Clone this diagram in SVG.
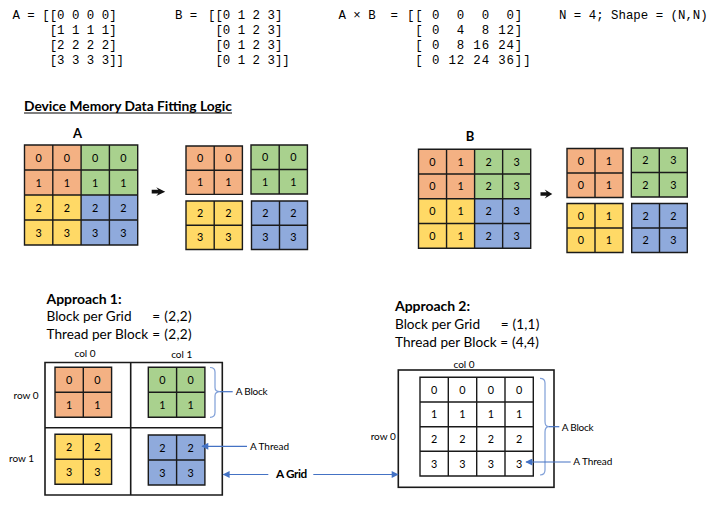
<svg xmlns="http://www.w3.org/2000/svg" width="724" height="505" viewBox="0 0 724 505">
<defs>
<style>
.mono{font-family:"Liberation Mono","Courier New",monospace;font-size:12.4px;fill:#000;white-space:pre}
.mx{letter-spacing:0.86px}
.t{font-family:Lato,"Liberation Sans",sans-serif;fill:#000}
.s{font-size:10px}
.m{font-size:13.6px}
.n{font-family:Lato,"Liberation Sans",sans-serif;font-size:10.8px;text-anchor:middle;fill:#000}
.b{font-weight:bold}
.grid{fill:none;stroke:#1a1a1a;stroke-width:1.4}
.or{fill:#F4B183}.gr{fill:#A9D18E}.ye{fill:#FFD966}.bl{fill:#8FAADC}.wh{fill:#fff}
.box{fill:none;stroke:#1a1a1a;stroke-width:1.6}
.brace{fill:none;stroke:#7F9FD8;stroke-width:1.2}
.conn{fill:none;stroke:#4472C4;stroke-width:1.2}
.harrow{fill:#111}
</style>
<marker id="ah" viewBox="0 0 10 10" refX="9" refY="5" markerWidth="8" markerHeight="7" markerUnits="userSpaceOnUse" orient="auto">
<path d="M0,0 L10,5 L0,10 z" fill="#4472C4"/>
</marker>
</defs>
<rect width="724" height="505" fill="#fff"/>

<g id="equations" xml:space="preserve">
<text class="mono" x="12.5" y="18.5">A = [[0 0 0 0]</text>
<text class="mono" x="49.7" y="33.5">[1 1 1 1]</text>
<text class="mono" x="49.7" y="48.5">[2 2 2 2]</text>
<text class="mono" x="49.7" y="63.5">[3 3 3 3]]</text>
<text class="mono" x="175" y="18.5">B =</text>
<text class="mono" x="208" y="18.5">[[0 1 2 3]</text>
<text class="mono" x="215.4" y="33.5">[0 1 2 3]</text>
<text class="mono" x="215.4" y="48.5">[0 1 2 3]</text>
<text class="mono" x="215.4" y="63.5">[0 1 2 3]]</text>
<text class="mono" x="338.5" y="18.5">A × B  =</text>
<text class="mono mx" x="407" y="18.5">[[ 0  0  0  0]</text>
<text class="mono mx" x="415.3" y="33.5">[ 0  4  8 12]</text>
<text class="mono mx" x="415.3" y="48.5">[ 0  8 16 24]</text>
<text class="mono mx" x="415.3" y="63.5">[ 0 12 24 36]]</text>
<text class="mono" x="559" y="18.5">N = 4; Shape = (N,N)</text>
</g>

<g id="title">
<text class="t b" x="24" y="111" font-size="13.8" textLength="208" lengthAdjust="spacing">Device Memory Data Fitting Logic</text>
<line x1="24" y1="113" x2="232" y2="113" stroke="#000" stroke-width="1.2"/>
</g>

<g id="matrixA">
<text class="t b" x="77.5" y="138" font-size="13" text-anchor="middle">A</text>
<rect class="or" x="24.5" y="145" width="56.6" height="50"/>
<rect class="gr" x="81.1" y="145" width="56.6" height="50"/>
<rect class="ye" x="24.5" y="195" width="56.6" height="50"/>
<rect class="bl" x="81.1" y="195" width="56.6" height="50"/>
<path class="grid" d="M24.5,145H137.7V245H24.5Z M52.8,145V245 M81.1,145V245 M109.4,145V245 M24.5,170H137.7 M24.5,195H137.7 M24.5,220H137.7"/>
<text class="n" x="38.6" y="161.5">0</text><text class="n" x="66.9" y="161.5">0</text><text class="n" x="95.2" y="161.5">0</text><text class="n" x="123.5" y="161.5">0</text>
<text class="n" x="38.6" y="186.5">1</text><text class="n" x="66.9" y="186.5">1</text><text class="n" x="95.2" y="186.5">1</text><text class="n" x="123.5" y="186.5">1</text>
<text class="n" x="38.6" y="211.5">2</text><text class="n" x="66.9" y="211.5">2</text><text class="n" x="95.2" y="211.5">2</text><text class="n" x="123.5" y="211.5">2</text>
<text class="n" x="38.6" y="236.5">3</text><text class="n" x="66.9" y="236.5">3</text><text class="n" x="95.2" y="236.5">3</text><text class="n" x="123.5" y="236.5">3</text>
</g>

<g id="arrowA">
<path class="harrow" d="M151.7,189.8 H158.3 L156.2,187.3 L165.2,191.7 L156.2,196.1 L158.3,193.6 H151.7 Z"/>
</g>

<g id="blocksA">
<g id="blockA-or">
<rect class="or" x="186" y="146" width="56.4" height="48.4"/>
<path class="grid" d="M186,146H242.4V194.4H186Z M214.2,146V194.4 M186,170.2H242.4"/>
<text class="n" x="200.1" y="162">0</text><text class="n" x="228.3" y="162">0</text>
<text class="n" x="200.1" y="186.3">1</text><text class="n" x="228.3" y="186.3">1</text>
</g>
<g id="blockA-gr">
<rect class="gr" x="251" y="145" width="56.4" height="49"/>
<path class="grid" d="M251,145H307.4V194H251Z M279.2,145V194 M251,169.5H307.4"/>
<text class="n" x="265.1" y="161.2">0</text><text class="n" x="293.3" y="161.2">0</text>
<text class="n" x="265.1" y="185.7">1</text><text class="n" x="293.3" y="185.7">1</text>
</g>
<g id="blockA-ye">
<rect class="ye" x="186" y="201" width="56.4" height="48.5"/>
<path class="grid" d="M186,201H242.4V249.5H186Z M214.2,201V249.5 M186,225.2H242.4"/>
<text class="n" x="200.1" y="217">2</text><text class="n" x="228.3" y="217">2</text>
<text class="n" x="200.1" y="241.3">3</text><text class="n" x="228.3" y="241.3">3</text>
</g>
<g id="blockA-bl">
<rect class="bl" x="251.5" y="201" width="56" height="48.5"/>
<path class="grid" d="M251.5,201H307.5V249.5H251.5Z M279.5,201V249.5 M251.5,225.2H307.5"/>
<text class="n" x="265.5" y="217">2</text><text class="n" x="293.5" y="217">2</text>
<text class="n" x="265.5" y="241.3">3</text><text class="n" x="293.5" y="241.3">3</text>
</g>
</g>

<g id="matrixB">
<text class="t b" x="470" y="141" font-size="13" text-anchor="middle">B</text>
<rect class="or" x="418.5" y="149.3" width="56.1" height="49.5"/>
<rect class="gr" x="474.6" y="149.3" width="56.1" height="49.5"/>
<rect class="ye" x="418.5" y="198.8" width="56.1" height="49.5"/>
<rect class="bl" x="474.6" y="198.8" width="56.1" height="49.5"/>
<path class="grid" d="M418.5,149.3H530.7V248.3H418.5Z M446.55,149.3V248.3 M474.6,149.3V248.3 M502.65,149.3V248.3 M418.5,174.05H530.7 M418.5,198.8H530.7 M418.5,223.55H530.7"/>
<text class="n" x="432.5" y="165.7">0</text><text class="n" x="460.6" y="165.7">1</text><text class="n" x="488.6" y="165.7">2</text><text class="n" x="516.7" y="165.7">3</text>
<text class="n" x="432.5" y="190.4">0</text><text class="n" x="460.6" y="190.4">1</text><text class="n" x="488.6" y="190.4">2</text><text class="n" x="516.7" y="190.4">3</text>
<text class="n" x="432.5" y="215.2">0</text><text class="n" x="460.6" y="215.2">1</text><text class="n" x="488.6" y="215.2">2</text><text class="n" x="516.7" y="215.2">3</text>
<text class="n" x="432.5" y="239.9">0</text><text class="n" x="460.6" y="239.9">1</text><text class="n" x="488.6" y="239.9">2</text><text class="n" x="516.7" y="239.9">3</text>
</g>

<g id="arrowB">
<path class="harrow" d="M540.5,192.2 H546.6 L544.7,189.6 L552.3,194 L544.7,198.4 L546.6,195.8 H540.5 Z"/>
</g>

<g id="blocksB">
<g id="blockB-or">
<rect class="or" x="567" y="148.5" width="56" height="49"/>
<path class="grid" d="M567,148.5H623V197.5H567Z M595,148.5V197.5 M567,173H623"/>
<text class="n" x="581" y="164.7">0</text><text class="n" x="609" y="164.7">1</text>
<text class="n" x="581" y="189.2">0</text><text class="n" x="609" y="189.2">1</text>
</g>
<g id="blockB-gr">
<rect class="gr" x="631.3" y="148" width="56" height="49"/>
<path class="grid" d="M631.3,148H687.3V197H631.3Z M659.3,148V197 M631.3,172.5H687.3"/>
<text class="n" x="645.3" y="164.2">2</text><text class="n" x="673.3" y="164.2">3</text>
<text class="n" x="645.3" y="188.7">2</text><text class="n" x="673.3" y="188.7">3</text>
</g>
<g id="blockB-ye">
<rect class="ye" x="567" y="203.5" width="56" height="49"/>
<path class="grid" d="M567,203.5H623V252.5H567Z M595,203.5V252.5 M567,228H623"/>
<text class="n" x="581" y="219.7">0</text><text class="n" x="609" y="219.7">1</text>
<text class="n" x="581" y="244.2">0</text><text class="n" x="609" y="244.2">1</text>
</g>
<g id="blockB-bl">
<rect class="bl" x="631.7" y="203.5" width="55.6" height="49"/>
<path class="grid" d="M631.7,203.5H687.3V252.5H631.7Z M659.5,203.5V252.5 M631.7,228H687.3"/>
<text class="n" x="645.6" y="219.7">2</text><text class="n" x="673.4" y="219.7">2</text>
<text class="n" x="645.6" y="244.2">2</text><text class="n" x="673.4" y="244.2">3</text>
</g>
</g>

<g id="approach1-text">
<text class="t b" x="46.5" y="303.5" font-size="14" textLength="75" lengthAdjust="spacing">Approach 1:</text>
<text class="t m" x="46.5" y="321" textLength="85" lengthAdjust="spacing">Block per Grid</text>
<text class="t m" x="152.3" y="321" textLength="39.4" lengthAdjust="spacing">= (2,2)</text>
<text class="t m" x="46.5" y="338.7" textLength="101.6" lengthAdjust="spacing">Thread per Block</text>
<text class="t m" x="152.3" y="338.7" textLength="39.4" lengthAdjust="spacing">= (2,2)</text>
<text class="t s" x="85" y="356.5" text-anchor="middle">col 0</text>
<text class="t s" x="181.7" y="358" text-anchor="middle">col 1</text>
<text class="t s" x="13.5" y="399">row 0</text>
<text class="t s" x="9" y="461.7">row 1</text>
</g>

<g id="grid1">
<path class="box" d="M45,362.5H222.3V495H45Z M130.7,362.5V495 M45,427.7H222.3"/>
</g>

<g id="g1-block00">
<rect class="or" x="55" y="367.3" width="56.6" height="50"/>
<path class="grid" d="M55,367.3H111.6V417.3H55Z M83.3,367.3V417.3 M55,392.3H111.6"/>
<text class="n" x="69.1" y="383.8">0</text><text class="n" x="97.4" y="383.8">0</text>
<text class="n" x="69.1" y="408.8">1</text><text class="n" x="97.4" y="408.8">1</text>
</g>
<g id="g1-block01">
<rect class="gr" x="148.3" y="367.3" width="56.6" height="50"/>
<path class="grid" d="M148.3,367.3H204.9V417.3H148.3Z M176.6,367.3V417.3 M148.3,392.3H204.9"/>
<text class="n" x="162.4" y="383.8">0</text><text class="n" x="190.7" y="383.8">0</text>
<text class="n" x="162.4" y="408.8">1</text><text class="n" x="190.7" y="408.8">1</text>
</g>
<g id="g1-block10">
<rect class="ye" x="55" y="434.3" width="56.6" height="50"/>
<path class="grid" d="M55,434.3H111.6V484.3H55Z M83.3,434.3V484.3 M55,459.3H111.6"/>
<text class="n" x="69.1" y="450.8">2</text><text class="n" x="97.4" y="450.8">2</text>
<text class="n" x="69.1" y="475.8">3</text><text class="n" x="97.4" y="475.8">3</text>
</g>
<g id="g1-block11">
<rect class="bl" x="148.3" y="435" width="56.6" height="50"/>
<path class="grid" d="M148.3,435H204.9V485H148.3Z M176.6,435V485 M148.3,460H204.9"/>
<text class="n" x="162.4" y="451.5">2</text><text class="n" x="190.7" y="451.5">2</text>
<text class="n" x="162.4" y="476.5">3</text><text class="n" x="190.7" y="476.5">3</text>
</g>

<g id="approach2-text">
<text class="t b" x="395" y="310.7" font-size="14" textLength="75" lengthAdjust="spacing">Approach 2:</text>
<text class="t m" x="395" y="329" textLength="85" lengthAdjust="spacing">Block per Grid</text>
<text class="t m" x="500.8" y="329" textLength="38.5" lengthAdjust="spacing">= (1,1)</text>
<text class="t m" x="395" y="347.3" textLength="101.6" lengthAdjust="spacing">Thread per Block</text>
<text class="t m" x="500.3" y="347.3" textLength="38.5" lengthAdjust="spacing">= (4,4)</text>
<text class="t s" x="464" y="367.5" text-anchor="middle">col 0</text>
<text class="t s" x="370.7" y="440">row 0</text>
</g>

<g id="grid2">
<rect class="box" x="398.3" y="370" width="155.7" height="117.3"/>
</g>
<g id="g2-block">
<rect class="wh" x="420" y="377.3" width="113.3" height="98.7"/>
<path class="grid" d="M420,377.3H533.3V476H420Z M448.3,377.3V476 M476.7,377.3V476 M505,377.3V476 M420,402H533.3 M420,426.7H533.3 M420,451.3H533.3"/>
<text class="n" x="434.2" y="393.7">0</text><text class="n" x="462.5" y="393.7">0</text><text class="n" x="490.8" y="393.7">0</text><text class="n" x="519.2" y="393.7">0</text>
<text class="n" x="434.2" y="418.4">1</text><text class="n" x="462.5" y="418.4">1</text><text class="n" x="490.8" y="418.4">1</text><text class="n" x="519.2" y="418.4">1</text>
<text class="n" x="434.2" y="443">2</text><text class="n" x="462.5" y="443">2</text><text class="n" x="490.8" y="443">2</text><text class="n" x="519.2" y="443">2</text>
<text class="n" x="434.2" y="467.7">3</text><text class="n" x="462.5" y="467.7">3</text><text class="n" x="490.8" y="467.7">3</text><text class="n" x="519.2" y="467.7">3</text>
</g>

<g id="labels">
<text class="t s" x="235.7" y="395.3" textLength="32" lengthAdjust="spacing">A Block</text>
<text class="t s" x="250" y="449.5" textLength="39" lengthAdjust="spacing">A Thread</text>
<text class="t b" x="276" y="477.5" font-size="11.8" textLength="31.3" lengthAdjust="spacing">A Grid</text>
<text class="t s" x="561.7" y="431" textLength="32" lengthAdjust="spacing">A Block</text>
<text class="t s" x="573.3" y="464.8" textLength="39" lengthAdjust="spacing">A Thread</text>
</g>

<g id="connectors">
<path class="brace" d="M210,367.5 Q215,367.5 215,372 V387.5 Q215,391.7 220,391.7 Q215,391.7 215,396 V412.5 Q215,417.3 210,417.3"/>
<line class="conn" x1="220" y1="391.7" x2="232.7" y2="391.7"/>
<line class="conn" x1="247" y1="446.3" x2="202" y2="446.3" marker-end="url(#ah)"/>
<line class="conn" x1="268.3" y1="474.5" x2="223.3" y2="474.5" marker-end="url(#ah)"/>
<line class="conn" x1="313.3" y1="474.5" x2="398" y2="474.5" marker-end="url(#ah)"/>
<path class="brace" d="M540,378.3 Q545,378.3 545,383 V421.5 Q545,426.7 549,426.7 Q545,426.7 545,432 V470 Q545,475 540,475"/>
<line class="conn" x1="549" y1="426.7" x2="559.3" y2="426.7"/>
<line class="conn" x1="570.7" y1="462" x2="526" y2="462" marker-end="url(#ah)"/>
</g>
</svg>
